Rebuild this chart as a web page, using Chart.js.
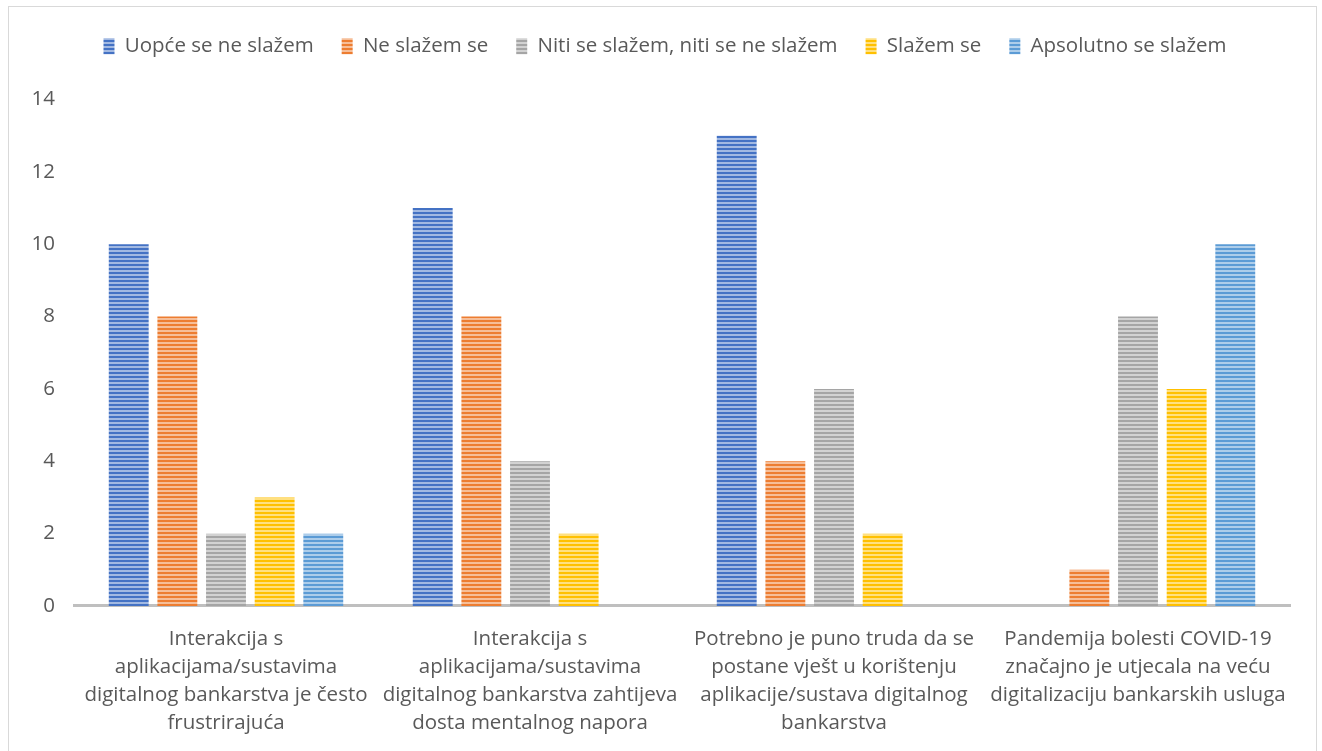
<!DOCTYPE html>
<html lang="hr">
<head>
  <meta charset="UTF-8" />
  <title>Digitalno bankarstvo</title>
  <script src="https://cdn.jsdelivr.net/npm/chart.js"></script>
  <style>
    body {
      margin: 0;
      background: #fff;
    }
    .frame {
      position: absolute;
      left: 8px;
      top: 6px;
      width: 1307px;
      height: 760px;
      border: 1px solid #d9d9d9;
    }
    .wrap {
      position: absolute;
      left: 0;
      top: 0;
      width: 1322px;
      height: 751px;
    }
  </style>
</head>
<body>
  <div class="frame"></div>
  <div class="wrap"><canvas id="chart"></canvas></div>

  <script>
    const categories = [
      ["Interakcija s", "aplikacijama/sustavima", "digitalnog bankarstva je često", "frustrirajuća"],
      ["Interakcija s", "aplikacijama/sustavima", "digitalnog bankarstva zahtijeva", "dosta mentalnog napora"],
      ["Potrebno je puno truda da se", "postane vješt u korištenju", "aplikacije/sustava digitalnog", "bankarstva"],
      ["Pandemija bolesti COVID-19", "značajno je utjecala na veću", "digitalizaciju bankarskih usluga"]
    ];
    const seriesNames = ["Uopće se ne slažem", "Ne slažem se", "Niti se slažem, niti se ne slažem", "Slažem se", "Apsolutno se slažem"];
    const uopceSeNe = [10, 11, 13, 0];
    const neSlazem = [8, 8, 4, 1];
    const niti = [2, 4, 6, 8];
    const slazem = [3, 2, 2, 6];
    const apsolutno = [2, 0, 0, 10];
    const yTicks = [0, 2, 4, 6, 8, 10, 12, 14];

    const colors = ["#4472c4", "#ed7d31", "#a5a5a5", "#ffc000", "#5b9bd5"];

    // vodoravne pruge kao u Excelu
    function stripes(color) {
      const c = document.createElement("canvas");
      c.width = 4;
      c.height = 4;
      const ctx = c.getContext("2d");
      ctx.fillStyle = color;
      ctx.fillRect(0, 0, 4, 4);
      ctx.fillStyle = "rgba(255,255,255,0.5)";
      ctx.fillRect(0, 2, 4, 2);
      return ctx.createPattern(c, "repeat");
    }

    // dodatni razmak ispod legende i mali pomak udesno
    const legendGap = {
      id: "legendGap",
      beforeInit(chart) {
        const fit = chart.legend.fit;
        chart.legend.fit = function () {
          fit.call(this);
          this.height += 33;
        };
      },
      afterLayout(chart) {
        chart.legend.left += 5;
        chart.legend.right += 5;
      }
    };

    const values = [uopceSeNe, neSlazem, niti, slazem, apsolutno];
    const font = "'Open Sans', sans-serif";

    new Chart(document.getElementById("chart"), {
      type: "bar",
      data: {
        labels: categories,
        datasets: values.map((v, i) => ({
          label: seriesNames[i],
          data: v,
          backgroundColor: stripes(colors[i]),
          borderWidth: 0,
          categoryPercentage: 0.8,
          barPercentage: 0.82
        }))
      },
      options: {
        responsive: true,
        maintainAspectRatio: false,
        animation: false,
        layout: { padding: { left: 30, right: 32, top: 8, bottom: 3 } },
        plugins: {
          tooltip: { enabled: false },
          legend: {
            position: "top",
            labels: {
              color: "#595959",
              font: { family: font, size: 20.5 },
              boxWidth: 11,
              boxHeight: 16,
              padding: 28
            }
          }
        },
        scales: {
          x: {
            grid: { display: false },
            border: { color: "#bfbfbf", width: 3 },
            ticks: {
              color: "#595959",
              font: { family: font, size: 20.5, lineHeight: 1.366 },
              padding: 11,
              maxRotation: 0,
              autoSkip: false
            }
          },
          y: {
            min: 0,
            max: 14,
            afterBuildTicks: axis => { axis.ticks = yTicks.map(v => ({ value: v })); },
            afterFit: axis => { axis.width = 44; },
            grid: { display: false },
            border: { display: false },
            ticks: {
              color: "#595959",
              font: { family: font, size: 20.5 },
              padding: 11
            }
          }
        }
      },
      plugins: [legendGap]
    });
  </script>
</body>
</html>
